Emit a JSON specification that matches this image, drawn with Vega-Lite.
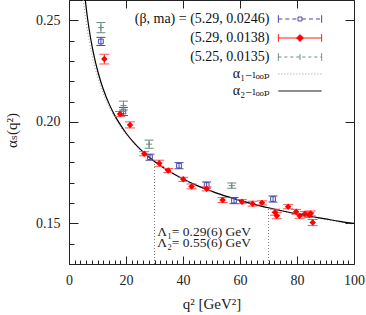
{
  "$schema": "https://vega.github.io/schema/vega-lite/v6.json",
  "width": 285,
  "height": 264,
  "autosize": {"type": "none"},
  "padding": {"left": 69, "top": 0, "right": 12, "bottom": 51},
  "background": "white",
  "config": {
    "view": {"stroke": "#222", "strokeWidth": 1},
    "axis": {"grid": false, "domain": false, "ticks": true, "tickColor": "#222", "tickWidth": 1, "zindex": 1, "labelFont": "Liberation Serif, DejaVu Serif, serif", "labelFontSize": 14, "labelColor": "#222", "titleFont": "Liberation Serif, DejaVu Serif, serif", "titleFontSize": 15, "titleFontWeight": "normal", "titleColor": "#222", "labelFlush": false, "labelOverlap": false},
    "legend": {"orient": "none", "legendX": 222, "legendY": 10, "padding": 0, "labelAlign": "right", "labelOffset": -39.5, "labelFont": "Liberation Serif, DejaVu Serif, serif", "labelFontSize": 14, "labelColor": "#111", "labelLimit": 400, "symbolSize": 289, "symbolStrokeWidth": 1, "rowPadding": 3, "symbolOpacity": 1}
  },
  "datasets": {
    "curve": [
      {"q": 4.8, "a1": 0.2629, "a2": 0.2734},
      {"q": 5.0, "a1": 0.2603, "a2": 0.2701},
      {"q": 5.5, "a1": 0.2543, "a2": 0.2628},
      {"q": 6, "a1": 0.2490, "a2": 0.2565},
      {"q": 6.5, "a1": 0.2444, "a2": 0.2510},
      {"q": 7, "a1": 0.2403, "a2": 0.2462},
      {"q": 8, "a1": 0.2332, "a2": 0.2379},
      {"q": 9, "a1": 0.2273, "a2": 0.2311},
      {"q": 10, "a1": 0.2222, "a2": 0.2254},
      {"q": 11, "a1": 0.2178, "a2": 0.2205},
      {"q": 12, "a1": 0.2140, "a2": 0.2162},
      {"q": 14, "a1": 0.2075, "a2": 0.2091},
      {"q": 16, "a1": 0.2022, "a2": 0.2033},
      {"q": 18, "a1": 0.1977, "a2": 0.1986},
      {"q": 20, "a1": 0.1939, "a2": 0.1945},
      {"q": 23, "a1": 0.1890, "a2": 0.1894},
      {"q": 26, "a1": 0.1849, "a2": 0.1852},
      {"q": 30, "a1": 0.1804, "a2": 0.1805},
      {"q": 35, "a1": 0.1758, "a2": 0.1758},
      {"q": 40, "a1": 0.1719, "a2": 0.1719},
      {"q": 45, "a1": 0.1687, "a2": 0.1686},
      {"q": 50, "a1": 0.1659, "a2": 0.1659},
      {"q": 55, "a1": 0.1635, "a2": 0.1634},
      {"q": 60, "a1": 0.1613, "a2": 0.1613},
      {"q": 65, "a1": 0.1593, "a2": 0.1594},
      {"q": 70, "a1": 0.1576, "a2": 0.1577},
      {"q": 75, "a1": 0.1559, "a2": 0.1561},
      {"q": 80, "a1": 0.1545, "a2": 0.1547},
      {"q": 85, "a1": 0.1531, "a2": 0.1534},
      {"q": 90, "a1": 0.1519, "a2": 0.1522},
      {"q": 95, "a1": 0.1507, "a2": 0.1510},
      {"q": 100, "a1": 0.1496, "a2": 0.1500}
    ],
    "vr": [
      {"q": 30, "lo": 0.13, "hi": 0.1805},
      {"q": 70, "lo": 0.13, "hi": 0.1577}
    ],
    "pts": [
      {"s": "b", "q": 11.2, "a": 0.2396, "lo": 0.2376, "hi": 0.2416},
      {"s": "b", "q": 19.1, "a": 0.2051, "lo": 0.2031, "hi": 0.2071},
      {"s": "b", "q": 28.4, "a": 0.1826, "lo": 0.1811, "hi": 0.1841},
      {"s": "b", "q": 38.6, "a": 0.1784, "lo": 0.1769, "hi": 0.1799},
      {"s": "b", "q": 48.3, "a": 0.1689, "lo": 0.1674, "hi": 0.1704},
      {"s": "b", "q": 57.9, "a": 0.1612, "lo": 0.1597, "hi": 0.1627},
      {"s": "b", "q": 71.6, "a": 0.1620, "lo": 0.1605, "hi": 0.1635},
      {"s": "g", "q": 11.2, "a": 0.2464, "lo": 0.2439, "hi": 0.2489},
      {"s": "g", "q": 19.1, "a": 0.2080, "lo": 0.2058, "hi": 0.2102},
      {"s": "g", "q": 28.1, "a": 0.1890, "lo": 0.1870, "hi": 0.1910},
      {"s": "g", "q": 57.1, "a": 0.1686, "lo": 0.1673, "hi": 0.1699},
      {"s": "r", "q": 12.4, "a": 0.2309, "lo": 0.2285, "hi": 0.2333},
      {"s": "r", "q": 17.9, "a": 0.2039, "lo": 0.2027, "hi": 0.2051},
      {"s": "r", "q": 21.4, "a": 0.1985, "lo": 0.1970, "hi": 0.2000},
      {"s": "r", "q": 26.4, "a": 0.1843, "lo": 0.1833, "hi": 0.1853},
      {"s": "r", "q": 31.7, "a": 0.1796, "lo": 0.1781, "hi": 0.1811},
      {"s": "r", "q": 34.8, "a": 0.1760, "lo": 0.1750, "hi": 0.1770},
      {"s": "r", "q": 40.1, "a": 0.1717, "lo": 0.1707, "hi": 0.1727},
      {"s": "r", "q": 43.0, "a": 0.1682, "lo": 0.1670, "hi": 0.1694},
      {"s": "r", "q": 48.3, "a": 0.1670, "lo": 0.1660, "hi": 0.1680},
      {"s": "r", "q": 53.9, "a": 0.1615, "lo": 0.1603, "hi": 0.1627},
      {"s": "r", "q": 60.7, "a": 0.1607, "lo": 0.1597, "hi": 0.1617},
      {"s": "r", "q": 64.4, "a": 0.1597, "lo": 0.1585, "hi": 0.1609},
      {"s": "r", "q": 67.7, "a": 0.1601, "lo": 0.1591, "hi": 0.1611},
      {"s": "r", "q": 72.3, "a": 0.1555, "lo": 0.1540, "hi": 0.1570},
      {"s": "r", "q": 72.9, "a": 0.1538, "lo": 0.1523, "hi": 0.1553},
      {"s": "r", "q": 76.9, "a": 0.1582, "lo": 0.1572, "hi": 0.1592},
      {"s": "r", "q": 79.7, "a": 0.1557, "lo": 0.1545, "hi": 0.1569},
      {"s": "r", "q": 80.9, "a": 0.1537, "lo": 0.1525, "hi": 0.1549},
      {"s": "r", "q": 82.8, "a": 0.1547, "lo": 0.1535, "hi": 0.1559},
      {"s": "r", "q": 84.3, "a": 0.1541, "lo": 0.1529, "hi": 0.1553},
      {"s": "r", "q": 84.8, "a": 0.1549, "lo": 0.1537, "hi": 0.1561},
      {"s": "r", "q": 85.5, "a": 0.1504, "lo": 0.1489, "hi": 0.1519}
    ]
  },
  "resolve": {"axis": {"x": "independent", "y": "independent"}},
  "layer": [
    {
      "data": {"name": "vr"},
      "mark": {"type": "rule", "color": "#808080", "strokeDash": [1, 2], "strokeWidth": 1},
      "encoding": {
        "x": {"field": "q", "type": "quantitative", "scale": {"domain": [0, 100], "nice": false, "zero": false},
          "axis": {"orient": "bottom", "values": [2,4,6,8,10,12,14,16,18,22,24,26,28,30,32,34,36,38,42,44,46,48,50,52,54,56,58,62,64,66,68,70,72,74,76,78,82,84,86,88,90,92,94,96,98], "tickSize": -4, "labels": false, "title": null}},
        "y": {"field": "lo", "type": "quantitative", "scale": {"domain": [0.13, 0.26], "nice": false, "zero": false},
          "axis": {"orient": "left", "values": [0.13,0.14,0.16,0.17,0.18,0.19,0.21,0.22,0.23,0.24,0.26], "tickSize": -5, "labels": false, "title": null}},
        "y2": {"field": "hi"}
      }
    },
    {
      "data": {"name": "curve"},
      "mark": {"type": "line", "color": "#999999", "strokeDash": [1, 2], "strokeWidth": 1, "clip": true, "interpolate": "monotone"},
      "encoding": {
        "x": {"field": "q", "type": "quantitative", "scale": {"domain": [0, 100], "nice": false, "zero": false},
          "axis": {"orient": "top", "values": [0,20,40,60,80,100], "tickSize": -8, "labels": false, "title": null}},
        "y": {"field": "a1", "type": "quantitative", "scale": {"domain": [0.13, 0.26], "nice": false, "zero": false},
          "axis": {"orient": "right", "values": [0.15,0.2,0.25], "tickSize": -9, "labels": false, "title": null}}
      }
    },
    {
      "data": {"name": "curve"},
      "mark": {"type": "line", "color": "#000000", "strokeWidth": 1.2, "clip": true, "interpolate": "monotone"},
      "encoding": {
        "x": {"field": "q", "type": "quantitative", "scale": {"domain": [0, 100], "nice": false, "zero": false},
          "axis": {"orient": "bottom", "values": [0,20,40,60,80,100], "tickSize": -8, "labelPadding": 17, "title": "q² [GeV²]", "titleX": 142.5, "titleY": 39, "titleBaseline": "middle"}},
        "y": {"field": "a2", "type": "quantitative", "scale": {"domain": [0.13, 0.26], "nice": false, "zero": false},
          "axis": {"orient": "left", "values": [0.15,0.2,0.25], "format": ".2f", "tickSize": -9, "labelPadding": 18, "title": "αₛ(q²)", "titleX": -58, "titleY": 130, "titleBaseline": "middle", "titleAlign": "center", "titleAngle": -90}}
      }
    },
    {
      "data": {"name": "pts"},
      "transform": [{"filter": "datum.s == 'b'"}],
      "layer": [
        {
          "mark": {"type": "rule", "color": "#4646ac", "strokeWidth": 1},
          "encoding": {
            "x": {"field": "q", "type": "quantitative", "scale": {"domain": [0, 100], "nice": false, "zero": false},
              "axis": {"orient": "top", "values": [2,4,6,8,10,12,14,16,18,22,24,26,28,30,32,34,36,38,42,44,46,48,50,52,54,56,58,62,64,66,68,70,72,74,76,78,82,84,86,88,90,92,94,96,98], "tickSize": -4, "labels": false, "title": null}},
            "y": {"field": "lo", "type": "quantitative", "scale": {"domain": [0.13, 0.26], "nice": false, "zero": false},
              "axis": {"orient": "right", "values": [0.13,0.14,0.16,0.17,0.18,0.19,0.21,0.22,0.23,0.24,0.26], "tickSize": -5, "labels": false, "title": null}},
            "y2": {"field": "hi"}
          }
        },
        {
          "mark": {"type": "rule", "color": "#4646ac", "strokeWidth": 1, "xOffset": -4.5, "x2Offset": 4.5},
          "encoding": {
            "x": {"field": "q", "type": "quantitative", "axis": null},
            "x2": {"field": "q"},
            "y": {"field": "lo", "type": "quantitative", "axis": null}
          }
        },
        {
          "mark": {"type": "rule", "color": "#4646ac", "strokeWidth": 1, "xOffset": -4.5, "x2Offset": 4.5},
          "encoding": {
            "x": {"field": "q", "type": "quantitative", "axis": null},
            "x2": {"field": "q"},
            "y": {"field": "hi", "type": "quantitative", "axis": null}
          }
        },
        {
          "mark": {"type": "point", "shape": "square", "size": 22, "filled": false, "color": "#4646ac", "strokeWidth": 1, "opacity": 1},
          "encoding": {
            "x": {"field": "q", "type": "quantitative", "axis": null},
            "y": {"field": "a", "type": "quantitative", "axis": null}
          }
        }
      ]
    },
    {
      "data": {"name": "pts"},
      "transform": [{"filter": "datum.s == 'g'"}],
      "layer": [
        {
          "mark": {"type": "rule", "color": "#6a8c7c", "strokeWidth": 1},
          "encoding": {
            "x": {"field": "q", "type": "quantitative", "scale": {"domain": [0, 100], "nice": false, "zero": false}, "axis": null},
            "y": {"field": "lo", "type": "quantitative", "scale": {"domain": [0.13, 0.26], "nice": false, "zero": false}, "axis": null},
            "y2": {"field": "hi"}
          }
        },
        {
          "mark": {"type": "rule", "color": "#6a8c7c", "strokeWidth": 1, "xOffset": -4.5, "x2Offset": 4.5},
          "encoding": {
            "x": {"field": "q", "type": "quantitative", "axis": null},
            "x2": {"field": "q"},
            "y": {"field": "lo", "type": "quantitative", "axis": null}
          }
        },
        {
          "mark": {"type": "rule", "color": "#6a8c7c", "strokeWidth": 1, "xOffset": -4.5, "x2Offset": 4.5},
          "encoding": {
            "x": {"field": "q", "type": "quantitative", "axis": null},
            "x2": {"field": "q"},
            "y": {"field": "hi", "type": "quantitative", "axis": null}
          }
        },
        {
          "mark": {"type": "point", "shape": "M-1,0H1M0,-1V1", "size": 36, "filled": false, "color": "#6a8c7c", "strokeWidth": 1, "opacity": 1},
          "encoding": {
            "x": {"field": "q", "type": "quantitative", "axis": null},
            "y": {"field": "a", "type": "quantitative", "axis": null}
          }
        }
      ]
    },
    {
      "data": {"name": "pts"},
      "transform": [{"filter": "datum.s == 'r'"}],
      "layer": [
        {
          "mark": {"type": "rule", "color": "#ff2020", "strokeWidth": 1},
          "encoding": {
            "x": {"field": "q", "type": "quantitative", "scale": {"domain": [0, 100], "nice": false, "zero": false}, "axis": null},
            "y": {"field": "lo", "type": "quantitative", "scale": {"domain": [0.13, 0.26], "nice": false, "zero": false}, "axis": null},
            "y2": {"field": "hi"}
          }
        },
        {
          "mark": {"type": "rule", "color": "#ff5050", "strokeWidth": 1, "xOffset": -5, "x2Offset": 5},
          "encoding": {
            "x": {"field": "q", "type": "quantitative", "axis": null},
            "x2": {"field": "q"},
            "y": {"field": "lo", "type": "quantitative", "axis": null}
          }
        },
        {
          "mark": {"type": "rule", "color": "#ff5050", "strokeWidth": 1, "xOffset": -5, "x2Offset": 5},
          "encoding": {
            "x": {"field": "q", "type": "quantitative", "axis": null},
            "x2": {"field": "q"},
            "y": {"field": "hi", "type": "quantitative", "axis": null}
          }
        },
        {
          "mark": {"type": "point", "shape": "diamond", "size": 42, "filled": true, "color": "#ff0000", "opacity": 1},
          "encoding": {
            "x": {"field": "q", "type": "quantitative", "axis": null},
            "y": {"field": "a", "type": "quantitative", "axis": null}
          }
        }
      ]
    },
    {
      "data": {"name": "pts"},
      "transform": [{"filter": "false"}],
      "mark": {"type": "point", "opacity": 1, "size": 289, "strokeWidth": 1},
      "encoding": {
        "shape": {"field": "s", "type": "nominal", "title": null,
          "legend": {"labelExpr": "datum.value == 'b' ? '(β, ma) = (5.29, 0.0246)' : datum.value == 'r' ? '(5.29, 0.0138)' : datum.value == 'g' ? '(5.25, 0.0135)' : datum.value == 'l1' ? 'α₁₋ₗₒₒₚ' : 'α₂₋ₗₒₒₚ'",
            "encode": {"labels": {"update": {"dy": {"signal": "datum.value == 'l1' ? -5 : datum.value == 'l2' ? -6 : 0"}}}}},
          "scale": {"domain": ["b", "r", "g", "l1", "l2"], "range": [
            "M-2.547,0H-0.23M0.23,0H2.547M-2.547,-0.447V0M-2.547,0V0.447M2.547,-0.447V0M2.547,0V0.447M-0.23,-0.23H0.23M0.23,-0.23V0.23M0.23,0.23H-0.23M-0.23,0.23V-0.23",
            "M-2.547,0H2.547M-2.547,-0.447V0.447M2.547,-0.447V0.447M0,-0.4L0.4,0L0,0.4L-0.4,0Z",
            "M-2.547,0H2.547M-2.547,-0.447V-0.149M-2.547,-0.149V0.149M-2.547,0.149V0.447M2.547,-0.447V-0.149M2.547,-0.149V0.149M2.547,0.149V0.447M0,-0.33V0M0,0V0.33",
            "M-2.547,-0.588H2.547",
            "M-2.547,-0.706H2.547"]}},
        "stroke": {"field": "s", "type": "nominal", "title": null,
          "legend": {"labelExpr": "datum.value == 'b' ? '(β, ma) = (5.29, 0.0246)' : datum.value == 'r' ? '(5.29, 0.0138)' : datum.value == 'g' ? '(5.25, 0.0135)' : datum.value == 'l1' ? 'α₁₋ₗₒₒₚ' : 'α₂₋ₗₒₒₚ'",
            "encode": {"labels": {"update": {"dy": {"signal": "datum.value == 'l1' ? -5 : datum.value == 'l2' ? -6 : 0"}}}}},
          "scale": {"domain": ["b", "r", "g", "l1", "l2"], "range": ["#4646ac", "#ff0000", "#6a8c7c", "#999999", "#000000"]}},
        "fill": {"field": "s", "type": "nominal", "title": null,
          "legend": {"labelExpr": "datum.value == 'b' ? '(β, ma) = (5.29, 0.0246)' : datum.value == 'r' ? '(5.29, 0.0138)' : datum.value == 'g' ? '(5.25, 0.0135)' : datum.value == 'l1' ? 'α₁₋ₗₒₒₚ' : 'α₂₋ₗₒₒₚ'",
            "encode": {"labels": {"update": {"dy": {"signal": "datum.value == 'l1' ? -5 : datum.value == 'l2' ? -6 : 0"}}}}},
          "scale": {"domain": ["b", "r", "g", "l1", "l2"], "range": ["transparent", "#ff0000", "transparent", "transparent", "transparent"]}},
        "strokeDash": {"field": "s", "type": "nominal", "title": null,
          "legend": {"labelExpr": "datum.value == 'b' ? '(β, ma) = (5.29, 0.0246)' : datum.value == 'r' ? '(5.29, 0.0138)' : datum.value == 'g' ? '(5.25, 0.0135)' : datum.value == 'l1' ? 'α₁₋ₗₒₒₚ' : 'α₂₋ₗₒₒₚ'",
            "encode": {"labels": {"update": {"dy": {"signal": "datum.value == 'l1' ? -5 : datum.value == 'l2' ? -6 : 0"}}}}},
          "scale": {"domain": ["b", "r", "g", "l1", "l2"], "range": [[4, 3], [1, 0], [3, 3], [1, 2], [1, 0]]}}
      }
    },
    {
      "data": {"values": [{}]},
      "mark": {"type": "text", "text": ["Λ₁= 0.29(6) GeV", "Λ₂= 0.55(6) GeV"], "font": "Liberation Serif, DejaVu Serif, serif", "fontSize": 13.5, "lineHeight": 11, "align": "left", "baseline": "middle", "color": "#222"},
      "encoding": {
        "x": {"datum": 31, "type": "quantitative", "scale": {"domain": [0, 100], "nice": false, "zero": false}, "axis": null},
        "y": {"datum": 0.1459, "type": "quantitative", "scale": {"domain": [0.13, 0.26], "nice": false, "zero": false}, "axis": null}
      }
    }
  ]
}
